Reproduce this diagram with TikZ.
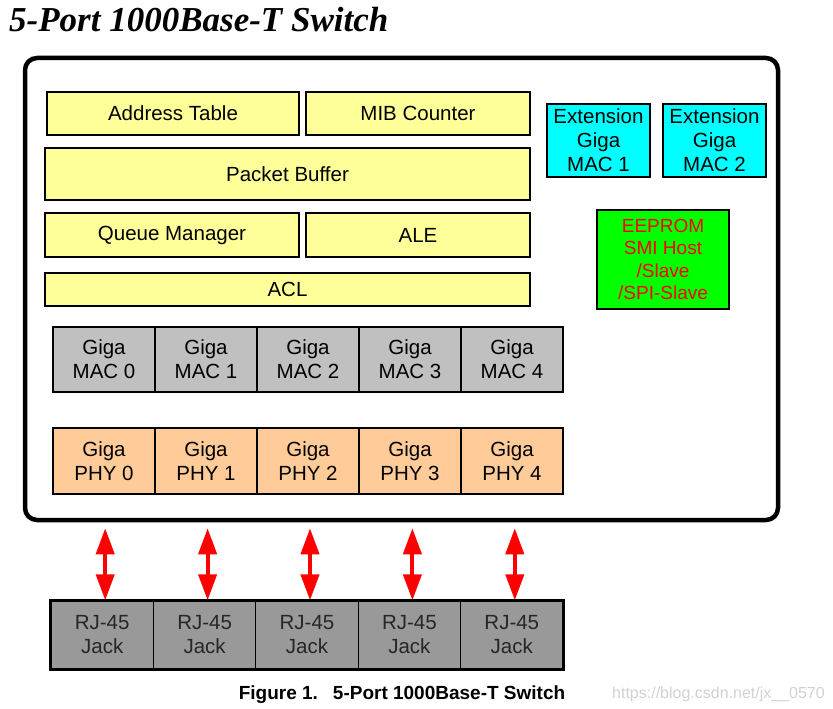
\documentclass[tikz,border=0pt]{standalone}
\usepackage{fontspec}
\setmainfont{Liberation Sans}
\newfontfamily\titlefont{Liberation Serif}
\definecolor{tableyellow}{RGB}{255, 255, 153}
\definecolor{extcyan}{RGB}{0, 255, 255}
\definecolor{eepgreen}{RGB}{0, 255, 0}
\definecolor{macgray}{RGB}{192, 192, 192}
\definecolor{phypeach}{RGB}{255, 204, 153}
\definecolor{jackgray}{RGB}{153, 153, 153}
\usepackage{tikz}
\usetikzlibrary{arrows.meta, positioning}

\begin{document}
\begin{tikzpicture}[x=1pt, y=-1pt,
  blk/.style={draw, line width=1.3pt, inner sep=0pt, align=center, font=\fontsize{20.5}{24}\selectfont},
  ylw/.style={blk, fill=tableyellow},
  link/.style={red, line width=4pt, {Triangle[length=26pt, width=18pt]}-{Triangle[length=26pt, width=18pt]}}]
  \useasboundingbox (0,0) rectangle (833,709);

  % title
  \node[anchor=base west, inner sep=0pt, font=\titlefont\bfseries\itshape\fontsize{35}{38}\selectfont] (title) at (9,32) {5-Port 1000Base-T Switch};

  % switch chip
  \node[draw, line width=4.5pt, rounded corners=12pt, minimum width=753pt, minimum height=462pt] (chip) at (401.5,289) {};

  % tables and buffers
  \node[ylw, minimum width=252pt, minimum height=43pt] (addr) at (173,113.5) {Address Table};
  \node[ylw, minimum width=224pt, minimum height=43pt] (mib) at (418,113.5) {MIB Counter};
  \node[ylw, minimum width=485pt, minimum height=52pt] (buf) at (287.5,174) {Packet Buffer};
  \node[ylw, minimum width=254pt, minimum height=44pt] (queue) at (172,235) {Queue Manager};
  \node[ylw, minimum width=224pt, minimum height=44pt] (ale) at (418,235) {ALE};
  \node[ylw, minimum width=485pt, minimum height=33pt] (acl) at (287.5,289.5) {ACL};

  % extension MACs and management
  \node[blk, fill=extcyan, minimum width=103pt, minimum height=73pt] (ext1) at (598.5,140.5) {Extension\\Giga\\MAC 1};
  \node[blk, fill=extcyan, minimum width=103pt, minimum height=73pt] (ext2) at (714.5,140.5) {Extension\\Giga\\MAC 2};
  \node[blk, fill=eepgreen, text=red, minimum width=132pt, minimum height=99pt, font=\fontsize{19}{22.5}\selectfont] (eeprom) at (663,259.5) {EEPROM\\SMI Host\\/Slave\\/SPI-Slave};

  % ports
  \foreach \i in {0,...,4} {
    \node[blk, fill=macgray, minimum width=102pt, minimum height=65pt] (mac\i) at (104+102*\i,359.5) {Giga\\MAC \i};
    \node[blk, fill=phypeach, minimum width=102pt, minimum height=66pt] (phy\i) at (104+102*\i,461) {Giga\\PHY \i};
    \node[blk, fill=jackgray, text=black!85, minimum width=102.4pt, minimum height=68pt] (jack\i) at (102.2+102.4*\i,635) {RJ-45\\Jack};
    \draw[link] ([xshift=3pt]jack\i.north |- chip.south) ++(0,6) -- ([xshift=3pt]jack\i.north);
  }
  \draw[line width=3pt] (jack0.north west) rectangle (jack4.south east);

  % caption
  \node[anchor=base, inner sep=0pt, font=\bfseries\fontsize{19}{21}\selectfont] (caption) at (402,699) {Figure 1.\hspace{15pt}5-Port 1000Base-T Switch};
  \node[anchor=base west, inner sep=0pt, text=black!18, font=\fontsize{16}{18}\selectfont] (url) at (612,698) {https://blog.csdn.net/jx\_\_0570};
\end{tikzpicture}
\end{document}
